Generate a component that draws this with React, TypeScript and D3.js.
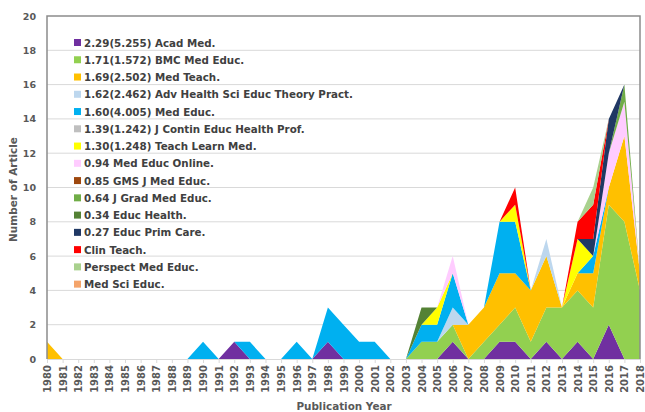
import React, { useEffect, useRef } from 'react';
import * as d3 from 'd3';

const years = [
  1980, 1981, 1982, 1983, 1984, 1985, 1986, 1987, 1988, 1989,
  1990, 1991, 1992, 1993, 1994, 1995, 1996, 1997, 1998, 1999,
  2000, 2001, 2002, 2003, 2004, 2005, 2006, 2007, 2008, 2009,
  2010, 2011, 2012, 2013, 2014, 2015, 2016, 2017, 2018,
];

// journal names as in the legend (bottom of stack first)
const journals = [
  '2.29(5.255) Acad Med.',
  '1.71(1.572) BMC Med Educ.',
  '1.69(2.502) Med Teach.',
  '1.62(2.462) Adv Health Sci Educ Theory Pract.',
  '1.60(4.005) Med Educ.',
  '1.39(1.242) J Contin Educ Health Prof.',
  '1.30(1.248) Teach Learn Med.',
  '0.94 Med Educ Online.',
  '0.85 GMS J Med Educ.',
  '0.64 J Grad Med Educ.',
  '0.34 Educ Health.',
  '0.27 Educ Prim Care.',
  'Clin Teach.',
  'Perspect Med Educ.',
  'Med Sci Educ.',
];

const colors = [
  '#7030A0', '#92D050', '#FFC000', '#BDD7EE', '#00B0F0',
  '#BFBFBF', '#FFFF00', '#FFCCFF', '#9E480E', '#70AD47',
  '#548235', '#203864', '#FF0000', '#A9D18E', '#F4A46A',
];

// [year, count] pairs, years not listed are 0
const acadMed = [[1992, 1], [1998, 1], [2006, 1], [2009, 1], [2010, 1], [2012, 1], [2014, 1], [2016, 2]];
const bmcMedEduc = [[2004, 1], [2005, 1], [2006, 1], [2008, 1], [2009, 1], [2010, 2], [2011, 1], [2012, 2], [2013, 3], [2014, 3], [2015, 3], [2016, 7], [2017, 8], [2018, 4]];
const medTeach = [[1980, 1], [2007, 2], [2008, 2], [2009, 3], [2010, 2], [2011, 3], [2012, 3], [2014, 1], [2015, 2], [2016, 1], [2017, 5], [2018, 1]];
const advHealthSci = [[2006, 1], [2012, 1]];
const medEduc = [[1990, 1], [1993, 1], [1996, 1], [1998, 2], [1999, 2], [2000, 1], [2001, 1], [2004, 1], [2005, 1], [2006, 2], [2009, 3], [2010, 3], [2015, 1]];
const jContinEduc = [];
const teachLearnMed = [[2005, 1], [2010, 1], [2014, 2]];
const medEducOnline = [[2006, 1], [2016, 2], [2017, 2]];
const gmsJMedEduc = [];
const jGradMedEduc = [[2017, 1]];
const educHealth = [[2004, 1]];
const educPrimCare = [[2015, 1], [2016, 2]];
const clinTeach = [[2010, 1], [2014, 1], [2015, 2]];
const perspectMedEduc = [[2015, 1]];
const medSciEduc = [];

const seriesValues = [
  acadMed, bmcMedEduc, medTeach, advHealthSci, medEduc, jContinEduc, teachLearnMed,
  medEducOnline, gmsJMedEduc, jGradMedEduc, educHealth, educPrimCare, clinTeach,
  perspectMedEduc, medSciEduc,
];

const yTicks = [0, 2, 4, 6, 8, 10, 12, 14, 16, 18, 20];

const FONT = '"DejaVu Sans", sans-serif';

const App = () => {
  const svgRef = useRef<SVGSVGElement>(null);

  useEffect(() => {
    const W = 645, H = 412;
    const margin = { top: 16, right: 5, bottom: 53, left: 47 };

    const svg = d3.select(svgRef.current).attr('width', W).attr('height', H);
    svg.selectAll('*').remove();

    const table = years.map((yr) => {
      const row: any = { year: yr };
      seriesValues.forEach((s, i) => {
        const hit = s.find((p) => p[0] === yr);
        row[i] = hit ? hit[1] : 0;
      });
      return row;
    });

    const x = d3.scaleLinear().domain([1980, 2018]).range([margin.left, W - margin.right]);
    const y = d3.scaleLinear().domain([0, 20]).range([H - margin.bottom, margin.top]);

    // gridlines
    svg
      .append('g')
      .selectAll('line')
      .data(yTicks.filter((t) => t > 0 && t < 20))
      .join('line')
      .attr('x1', x(1980))
      .attr('x2', x(2018))
      .attr('y1', (d) => y(d))
      .attr('y2', (d) => y(d))
      .attr('stroke', '#D9D9D9')
      .attr('stroke-width', 1);

    const keys = journals.map((_, i) => i);
    const layers = d3.stack<any>().keys(keys as any)(table);

    const area = d3
      .area<any>()
      .x((d) => x(d.data.year))
      .y0((d) => y(d[0]))
      .y1((d) => y(d[1]));

    svg
      .append('g')
      .selectAll('path')
      .data(layers)
      .join('path')
      .attr('fill', (d, i) => colors[i])
      .attr('d', area);

    // x axis
    const xAxis = svg
      .append('g')
      .attr('transform', `translate(0,${y(0)})`)
      .call(d3.axisBottom(x).tickValues(years).tickSize(4).tickFormat((d) => String(d)));
    xAxis.select('.domain').attr('stroke', '#D9D9D9');
    xAxis.selectAll('.tick line').attr('stroke', '#D9D9D9');
    xAxis
      .selectAll('text')
      .attr('font-family', FONT)
      .attr('font-weight', 'bold')
      .attr('font-size', 10)
      .attr('fill', '#595959')
      .style('text-anchor', 'end')
      .attr('transform', 'rotate(-90)')
      .attr('x', -6)
      .attr('y', 0)
      .attr('dy', '0.35em');

    // y axis labels
    const yAxis = svg
      .append('g')
      .attr('transform', `translate(${margin.left},0)`)
      .call(d3.axisLeft(y).tickValues(yTicks).tickSize(0).tickPadding(11));
    yAxis.select('.domain').remove();
    yAxis
      .selectAll('text')
      .attr('font-family', FONT)
      .attr('font-weight', 'bold')
      .attr('font-size', 9.5)
      .attr('fill', '#595959');

    // plot border
    svg
      .append('path')
      .attr('d', `M${x(1980)},${y(0)}V${y(20)}H${x(2018)}V${y(0)}`)
      .attr('fill', 'none')
      .attr('stroke', '#8C8C8C')
      .attr('stroke-width', 1.5);

    // legend
    const legend = svg
      .append('g')
      .selectAll('g')
      .data(journals)
      .join('g')
      .attr('transform', (d, i) => `translate(74,${39 + i * 17.26})`);
    legend
      .append('rect')
      .attr('width', 7)
      .attr('height', 7)
      .attr('fill', (d, i) => colors[i]);
    legend
      .append('text')
      .attr('x', 10)
      .attr('y', 7.5)
      .attr('font-family', FONT)
      .attr('font-weight', 'bold')
      .attr('font-size', 10.3)
      .attr('fill', '#404040')
      .text((d) => d);

    // titles
    svg
      .append('text')
      .attr('transform', `translate(17,${(y(0) + y(20)) / 2 + 2}) rotate(-90)`)
      .attr('text-anchor', 'middle')
      .attr('font-family', FONT)
      .attr('font-weight', 'bold')
      .attr('font-size', 10.5)
      .attr('fill', '#595959')
      .text('Number of Article');

    svg
      .append('text')
      .attr('x', 344)
      .attr('y', 410)
      .attr('text-anchor', 'middle')
      .attr('font-family', FONT)
      .attr('font-weight', 'bold')
      .attr('font-size', 10.4)
      .attr('fill', '#595959')
      .text('Publication Year');
  }, []);

  return <svg ref={svgRef} style={{ position: 'absolute', left: 0, top: 0, background: '#fff' }}></svg>;
};

export default App;
